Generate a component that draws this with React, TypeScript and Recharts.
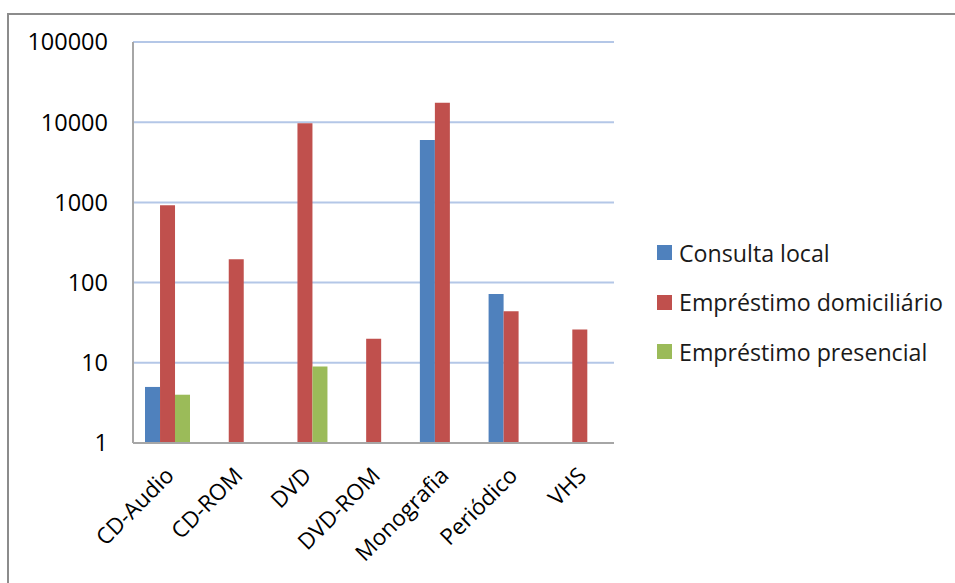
import React from 'react';
import { BarChart, Bar, XAxis, YAxis, CartesianGrid } from 'recharts';

// dados (escala logarítmica)
const categories = ['CD-Audio', 'CD-ROM', 'DVD', 'DVD-ROM', 'Monografia', 'Periódico', 'VHS'];
const consultaLocal = [5, null, null, null, 6000, 72, null];
const emprestimoDomiciliario = [920, 195, 9700, 20, 17500, 44, 26];
const emprestimoPresencial = [4, null, 9, null, null, null, null];
const yTicks = [1, 10, 100, 1000, 10000, 100000];

const series = [
  { key: 'consulta', name: 'Consulta local', color: '#4f81bd', values: consultaLocal },
  { key: 'domiciliario', name: 'Empréstimo domiciliário', color: '#c0504d', values: emprestimoDomiciliario },
  { key: 'presencial', name: 'Empréstimo presencial', color: '#9bbb59', values: emprestimoPresencial },
];

const data = categories.map((name, i) => {
  const row: Record<string, string | number | null> = { name };
  series.forEach((s) => {
    row[s.key] = s.values[i];
  });
  return row;
});

const FONT = '"Open Sans", sans-serif';

const XTick = ({ x, y, payload }: any) => {
  const tx = x + 8;
  const ty = y + 26;
  return (
    <text
      x={tx}
      y={ty}
      transform={`rotate(-45, ${tx}, ${ty})`}
      textAnchor="end"
      fontSize={22.5}
      fontFamily={FONT}
      fill="#000"
    >
      {payload.value}
    </text>
  );
};

// legenda fora do svg para não roubar espaço do gráfico
const LegendBox = () => (
  <div style={{ position: 'absolute', left: 657, top: 228, fontFamily: FONT, fontSize: 23.2, color: '#1a1a1a' }}>
    {series.map((s) => (
      <div key={s.key} style={{ display: 'flex', alignItems: 'center', height: 49.5, whiteSpace: 'nowrap' }}>
        <span style={{ width: 15, height: 15, background: s.color, marginRight: 7, display: 'inline-block' }} />
        {s.name}
      </div>
    ))}
  </div>
);

export default function App() {
  return (
    <div style={{ position: 'absolute', left: 0, top: 0, width: 955, height: 583, background: '#fff', overflow: 'hidden' }}>
      <div
        style={{
          position: 'absolute',
          left: 7,
          top: 13,
          width: 970,
          height: 600,
          border: '2px solid #8c8c8c',
          boxSizing: 'border-box',
        }}
      />
      <div style={{ position: 'absolute', left: 0, top: 0 }}>
        <BarChart
          width={955}
          height={583}
          data={data}
          margin={{ top: 42, right: 341, bottom: 20, left: 33 }}
          barCategoryGap="17.5%"
          barGap={0}
        >
          <CartesianGrid vertical={false} stroke="#b4c7e7" strokeWidth={2} />
          <XAxis
            dataKey="name"
            height={120}
            tick={<XTick />}
            tickLine={false}
            axisLine={{ stroke: '#a6a6a6', strokeWidth: 2 }}
            interval={0}
          />
          <YAxis
            scale="log"
            domain={[1, 100000]}
            ticks={yTicks}
            width={100}
            tickLine={false}
            tickSize={0}
            tickMargin={25}
            axisLine={{ stroke: '#a6a6a6', strokeWidth: 2 }}
            tick={{ fontSize: 23.5, fontFamily: FONT, fill: '#000' }}
            allowDataOverflow
          />
          {series.map((s) => (
            <Bar key={s.key} dataKey={s.key} name={s.name} fill={s.color} isAnimationActive={false} />
          ))}
        </BarChart>
      </div>
      <LegendBox />
    </div>
  );
}
